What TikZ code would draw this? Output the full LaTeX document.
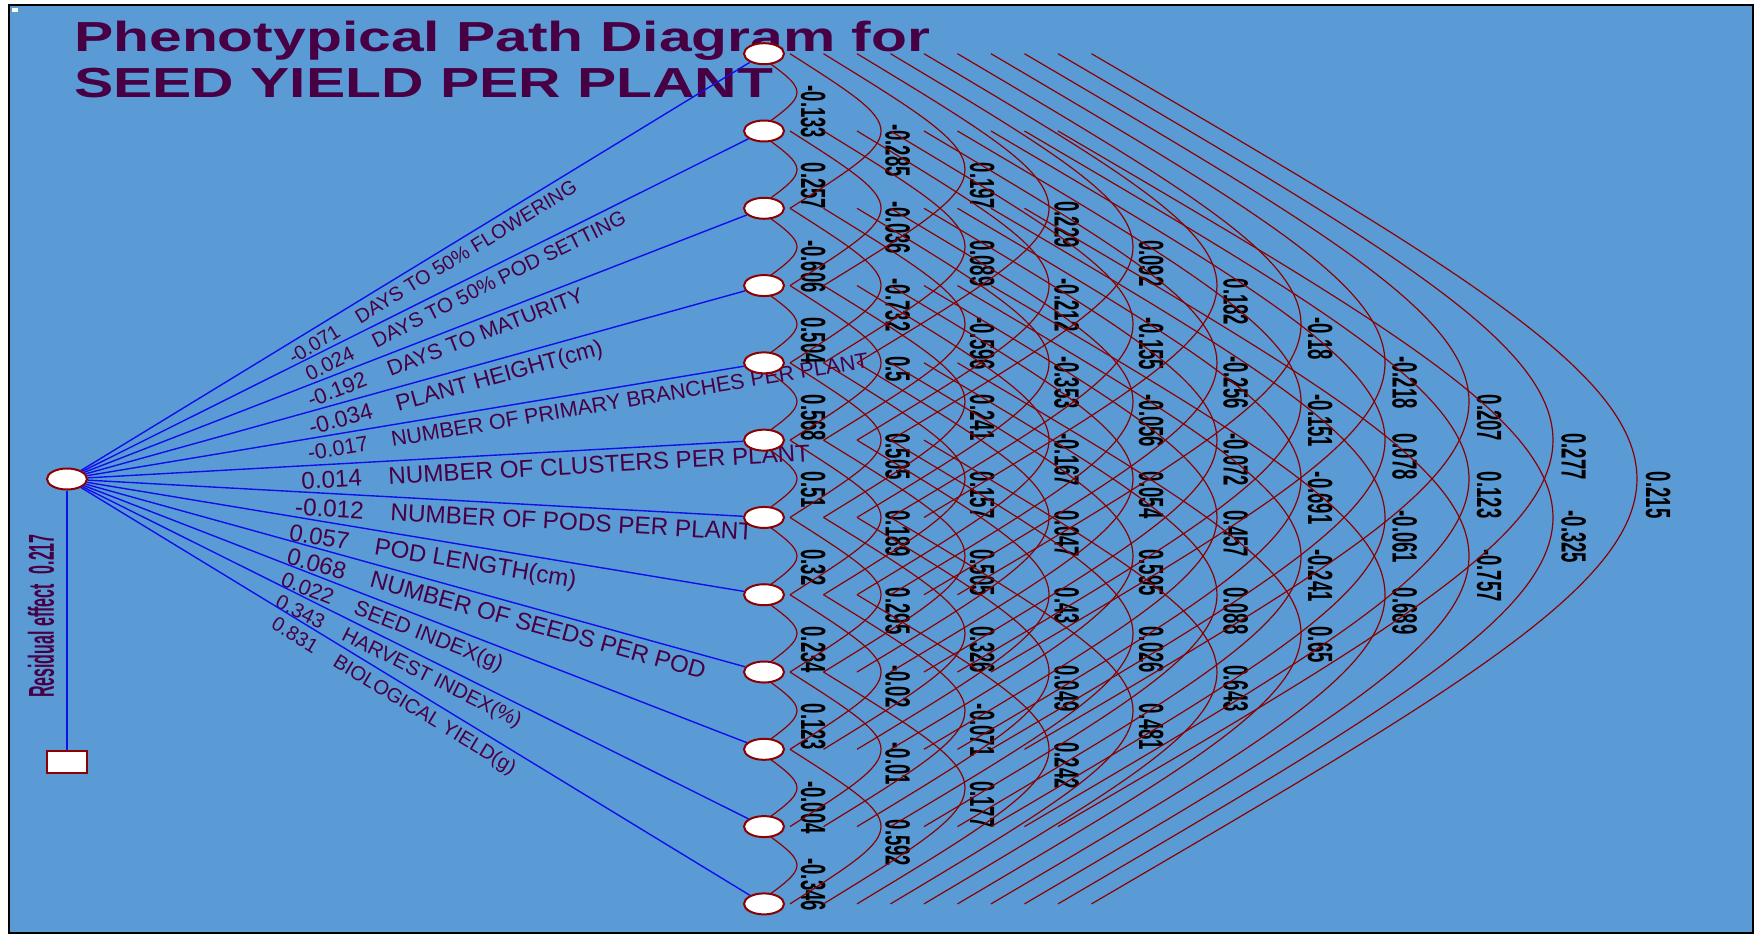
\documentclass[tikz,border=0pt]{standalone}
\usepackage{fontspec}
\setmainfont{Liberation Sans}
\usetikzlibrary{shapes.geometric,calc}
\definecolor{bgblue}{RGB}{91,155,213}
\definecolor{ttl}{RGB}{72,0,68}
\definecolor{arcred}{RGB}{139,0,0}
\definecolor{lnblue}{RGB}{15,15,235}
\newcommand{\cl}[1]{\scalebox{0.53}[1]{\fontsize{35}{35}\selectfont\bfseries #1}}
\pgfdeclarelayer{back}
\pgfdeclarelayer{mid}
\pgfsetlayers{back,mid,main}
\begin{document}
\begin{tikzpicture}[x=1pt,y=-1pt,
  vnode/.style={ellipse, draw=arcred, line width=2pt, fill=white, minimum width=40pt, minimum height=21pt, inner sep=0pt},
  resbox/.style={rectangle, draw=arcred, line width=2pt, fill=white, minimum width=40pt, minimum height=22pt, inner sep=0pt},
  pline/.style={draw=lnblue, line width=1.4pt},
  corarc/.style={draw=arcred, line width=1.2pt},
  plab/.style={text=ttl, sloped, anchor=north west, inner xsep=1pt, inner ysep=6pt},
  clab/.style={rotate=-90, anchor=south west, inner sep=0pt, text=black}
]
\useasboundingbox (0,0) rectangle (1754,934);
% nodes
\foreach \k in {1,...,12} {
  \pgfmathsetmacro{\yy}{53.7+77.29*(\k-1)}
  \node[vnode] (v\k) at (764,\yy) {};
}
\node[vnode] (s) at (67,479) {};
\node[resbox] (r) at (67,762) {};

\begin{pgfonlayer}{back}
  \fill[white] (0,0) rectangle (1754,934);
  \fill[bgblue] (9,5) rectangle (1753,933);
  \draw[black, line width=2pt] (9,5) rectangle (1753,933);
  \fill[white] (12,8) rectangle (18,12);
  \node[anchor=base west, text=ttl, inner sep=0pt] (t1) at (74,52)
    {\scalebox{1.4}[1]{\fontsize{42}{42}\selectfont\bfseries Phenotypical Path Diagram for}};
  \node[anchor=base west, text=ttl, inner sep=0pt] (t2) at (74,98)
    {\scalebox{1.4}[1]{\fontsize{42}{42}\selectfont\bfseries SEED YIELD PER PLANT}};
  \node[rotate=90, text=ttl, inner sep=0pt] (res) at (41,616)
    {\scalebox{0.445}[1]{\fontsize{36}{36}\selectfont\bfseries Residual effect\hspace{0.6em}0.217}};
\end{pgfonlayer}

\begin{pgfonlayer}{mid}
  \draw[pline] (s) -- (r);
  \foreach \k/\num/\name/\fs/\ps in {
    1/-0.071/DAYS TO 50\% FLOWERING/19.8/0.30,
    2/0.024/DAYS TO 50\% POD SETTING/20.6/0.325,
    3/-0.192/DAYS TO MATURITY/21.7/0.328,
    4/-0.034/PLANT HEIGHT(cm)/23/0.33,
    5/-0.017/NUMBER OF PRIMARY BRANCHES PER PLANT/21.5/0.33,
    6/0.014/NUMBER OF CLUSTERS PER PLANT/24.2/0.322,
    7/-0.012/NUMBER OF PODS PER PLANT/24.3/0.315,
    8/0.057/POD LENGTH(cm)/24/0.31,
    9/0.068/NUMBER OF SEEDS PER POD/24/0.31,
    10/0.022/SEED INDEX(g)/21.7/0.305,
    11/0.343/HARVEST INDEX(\%)/20.6/0.30,
    12/0.831/BIOLOGICAL YIELD(g)/20.1/0.297} {
    \draw[pline] (s) -- (v\k) node[plab, pos=\ps, font=\fontsize{\fs}{\fs}\selectfont] {\num\hspace{1.1em}\name};
  }
  \foreach \i/\j/\v in {
    1/2/-0.133, 2/3/0.257, 3/4/-0.606, 4/5/0.504, 5/6/0.568, 6/7/0.51, 7/8/0.32, 8/9/0.234, 9/10/0.123, 10/11/-0.004, 11/12/-0.346,
    1/3/-0.285, 2/4/-0.036, 3/5/-0.732, 4/6/0.5, 5/7/0.505, 6/8/0.189, 7/9/0.295, 8/10/-0.02, 9/11/-0.01, 10/12/0.592,
    1/4/0.197, 2/5/0.089, 3/6/-0.596, 4/7/0.241, 5/8/0.157, 6/9/0.505, 7/10/0.326, 8/11/-0.071, 9/12/0.177,
    1/5/0.229, 2/6/-0.212, 3/7/-0.353, 4/8/-0.167, 5/9/0.047, 6/10/0.43, 7/11/0.049, 8/12/0.242,
    1/6/0.092, 2/7/-0.155, 3/8/-0.056, 4/9/0.054, 5/10/0.595, 6/11/0.026, 7/12/0.481,
    1/7/0.182, 2/8/-0.256, 3/9/-0.072, 4/10/0.457, 5/11/0.088, 6/12/0.643,
    1/8/-0.18, 2/9/-0.151, 3/10/-0.691, 4/11/-0.241, 5/12/0.65,
    1/9/-0.218, 2/10/0.078, 3/11/-0.061, 4/12/0.689,
    1/10/0.207, 2/11/0.123, 3/12/-0.757,
    1/11/0.277, 2/12/-0.325,
    1/12/0.215} {
    \pgfmathsetmacro{\dd}{\j-\i}
    \pgfmathsetmacro{\xs}{723+33.5*\dd-764}
    \pgfmathsetmacro{\cx}{709.67+100.83*\dd-764}
    \pgfmathsetmacro{\ax}{713+84.5*\dd-764+3}
    \draw[corarc] ($(v\i.center)+(\xs,0)$)
      .. controls ($(v\i.center)!0.5!(v\j.center)+(\cx,0)$) and ($(v\i.center)!0.5!(v\j.center)+(\cx,0)$)
      .. ($(v\j.center)+(\xs,0)$);
    \node[clab] (c\i-\j) at ($(v\i.center)!0.5!(v\j.center)+(\ax,-7)$) {\cl{\v}};
  }
\end{pgfonlayer}
\end{tikzpicture}
\end{document}
